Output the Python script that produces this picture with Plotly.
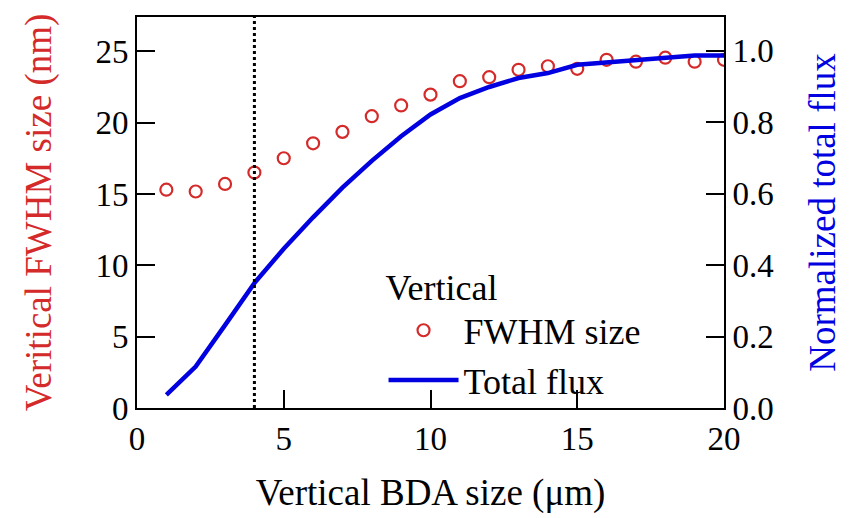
import plotly.graph_objects as go

bda_size = [1, 2, 3, 4, 5, 6, 7, 8, 9, 10, 11, 12, 13, 14, 15, 16, 17, 18, 19, 20]
fwhm_size = [15.3, 15.17, 15.7, 16.5, 17.5, 18.55, 19.35, 20.45, 21.2, 21.96,
             22.9, 23.18, 23.7, 23.95, 23.77, 24.4, 24.27, 24.55, 24.27, 24.4]
total_flux = [0.037, 0.116, 0.232, 0.35, 0.446, 0.534, 0.617, 0.692, 0.761, 0.822,
              0.868, 0.899, 0.924, 0.938, 0.961, 0.968, 0.972, 0.98, 0.987, 0.987]
marker_x = 4

FONT = "Liberation Serif, Times New Roman, serif"
RED = "#d42a2a"
BLUE = "#0000e0"
TICK_SIZE = 33
TITLE_SIZE = 37

fig = go.Figure()
fig.add_trace(go.Scatter(
    x=bda_size, y=fwhm_size, mode="markers", name="FWHM size",
    marker=dict(symbol="circle-open", size=12, color=RED, line=dict(width=2.2, color=RED)),
    yaxis="y"))
fig.add_trace(go.Scatter(
    x=bda_size, y=total_flux, mode="lines", name="Total flux",
    line=dict(color=BLUE, width=4.5), yaxis="y2"))

fig.add_shape(type="line", x0=marker_x, x1=marker_x, y0=0, y1=1, xref="x", yref="paper",
              line=dict(color="black", width=3, dash="3px,3px"))

axis_common = dict(showline=True, linecolor="black", linewidth=2, ticks="inside",
                   ticklen=18, tickwidth=2, tickcolor="black", showgrid=False,
                   zeroline=False, tickfont=dict(family=FONT, size=TICK_SIZE, color="black"))

fig.update_layout(
    width=861, height=518,
    margin=dict(l=137, r=137, t=17, b=108),
    plot_bgcolor="white", paper_bgcolor="white",
    font=dict(family=FONT, size=TITLE_SIZE, color="black"),
    xaxis=dict(range=[0, 20], tickvals=[0, 5, 10, 15, 20], mirror=True,
               title=dict(text="Vertical BDA size (μm)", font=dict(family=FONT, size=TITLE_SIZE), standoff=24),
               **axis_common),
    yaxis=dict(range=[0, 27.4], tickvals=[0, 5, 10, 15, 20, 25],
               title=dict(text="Veritical FWHM size (nm)", font=dict(family=FONT, size=TITLE_SIZE, color=RED), standoff=32),
               **axis_common),
    yaxis2=dict(range=[0, 1.095], tickvals=[0, 0.2, 0.4, 0.6, 0.8, 1.0], tickformat=".1f",
                overlaying="y", side="right",
                title=dict(text="Normalized total flux", font=dict(family=FONT, size=TITLE_SIZE, color=BLUE), standoff=36),
                **axis_common),
    legend=dict(x=0.42, y=0.395, xanchor="left", yanchor="top",
                bgcolor="rgba(0,0,0,0)", font=dict(family=FONT, size=36),
                title=dict(text="Vertical", font=dict(family=FONT, size=36)),
                itemwidth=70, tracegroupgap=0),
    showlegend=True,
)

fig.write_html("out.html")
